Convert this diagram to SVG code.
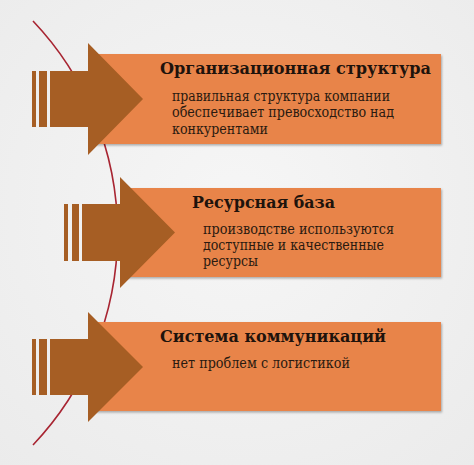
<svg xmlns="http://www.w3.org/2000/svg" width="474" height="465" viewBox="0 0 474 465">
<defs>
<radialGradient id="bg" cx="0.5" cy="0.45" r="0.75">
<stop offset="0" stop-color="#F6F6F6"/>
<stop offset="1" stop-color="#EBEBEB"/>
</radialGradient>
<filter id="sh" x="-5%" y="-5%" width="112%" height="120%">
<feDropShadow dx="1" dy="1.5" stdDeviation="1.2" flood-color="#000" flood-opacity="0.3"/>
</filter>
</defs>
<style>
.box{fill:#E8844A;}
.arr{fill:#A65E24;}
.t{font-family:"DejaVu Serif",serif;font-weight:bold;font-size:17px;fill:#1E130C;}
.b{font-family:"DejaVu Serif",serif;font-size:14px;fill:#2A1A10;}
.curve{fill:none;stroke:#A82532;stroke-width:1.6;}
</style>
<rect x="0" y="0" width="474" height="465" fill="url(#bg)"/>
<g id="connectors">
<path class="curve" d="M33,21 A308,308 0 0 1 33,445"/>
</g>
<g id="node1">
<rect class="box" x="95" y="54" width="346" height="90" filter="url(#sh)"/>
<rect class="arr" x="32" y="71" width="4" height="56"/>
<rect class="arr" x="39" y="71" width="8" height="56"/>
<polygon class="arr" points="50,71 88,71 88,43 143,99 88,155 88,127 50,127"/>
<text class="t" x="160" y="74" textLength="271" lengthAdjust="spacingAndGlyphs">Организационная структура</text>
<text class="b" x="172" y="101" textLength="218" lengthAdjust="spacingAndGlyphs">правильная структура компании</text>
<text class="b" x="172" y="117" textLength="222" lengthAdjust="spacingAndGlyphs">обеспечивает превосходство над</text>
<text class="b" x="172" y="134" textLength="96" lengthAdjust="spacingAndGlyphs">конкурентами</text>
</g>
<g id="node2">
<rect class="box" x="127" y="188" width="314" height="89" filter="url(#sh)"/>
<rect class="arr" x="64" y="204" width="4" height="57"/>
<rect class="arr" x="72" y="204" width="7" height="57"/>
<polygon class="arr" points="82,204 120,204 120,177 175,232.5 120,288 120,261 82,261"/>
<text class="t" x="192" y="208" textLength="143" lengthAdjust="spacingAndGlyphs">Ресурсная база</text>
<text class="b" x="203" y="234" textLength="191" lengthAdjust="spacingAndGlyphs">производстве используются</text>
<text class="b" x="203" y="250" textLength="181" lengthAdjust="spacingAndGlyphs">доступные и качественные</text>
<text class="b" x="203" y="266" textLength="55" lengthAdjust="spacingAndGlyphs">ресурсы</text>
</g>
<g id="node3">
<rect class="box" x="95" y="322" width="346" height="89" filter="url(#sh)"/>
<rect class="arr" x="32" y="339" width="4" height="56"/>
<rect class="arr" x="39" y="339" width="8" height="56"/>
<polygon class="arr" points="50,339 88,339 88,312 143,367 88,422 88,395 50,395"/>
<text class="t" x="160" y="342" textLength="226" lengthAdjust="spacingAndGlyphs">Система коммуникаций</text>
<text class="b" x="172" y="368" textLength="178" lengthAdjust="spacingAndGlyphs">нет проблем с логистикой</text>
</g>
</svg>
